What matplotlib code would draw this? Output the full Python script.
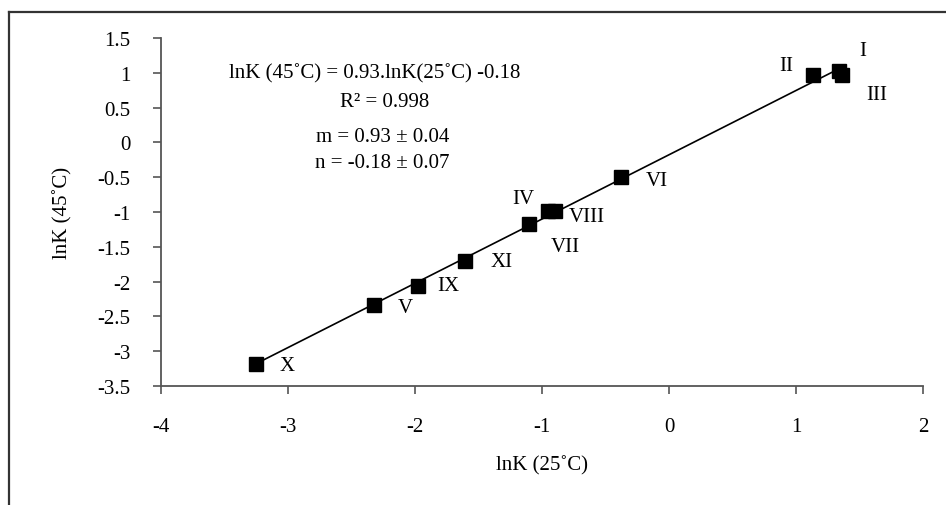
import matplotlib
matplotlib.use("Agg")
import matplotlib.pyplot as plt
from matplotlib.lines import Line2D
import numpy as np

plt.rcParams["font.family"] = ["Liberation Serif", "DejaVu Serif"]

# data
labels = ["I", "II", "III", "IV", "V", "VI", "VII", "VIII", "IX", "X", "XI"]
lnk25 = [1.34, 1.13, 1.36, -0.95, -2.32, -0.38, -1.10, -0.90, -1.98, -3.25, -1.61]
lnk45 = [1.02, 0.97, 0.97, -0.99, -2.33, -0.49, -1.17, -0.98, -2.06, -3.18, -1.71]
# label offsets (points)
offsets = {
    "I": (17, 15), "II": (-19, 7), "III": (25, -14), "IV": (-18, 9),
    "V": (22, -2), "VI": (26, -3), "VII": (26, -16), "VIII": (23, -4),
    "IX": (22, 0), "X": (22, -1), "XI": (27, 0),
}
FS = 15

fig = plt.figure(figsize=(9.46, 5.06), dpi=100)
ax = fig.add_axes([161 / 946, 1 - 387 / 506, (923 - 161) / 946, (387 - 39) / 506])

x = np.array(lnk25)
y = np.array(lnk45)
slope, icpt = np.polyfit(x, y, 1)
xl = np.array([x.min(), x.max()])
ax.plot(xl, slope * xl + icpt, color="black", lw=1.2, zorder=2)
ax.plot(x, y, ls="none", marker="s", ms=10.5, color="black", zorder=3)

for lab, xi, yi in zip(labels, lnk25, lnk45):
    ax.annotate(lab, (xi, yi), xytext=offsets[lab], textcoords="offset points",
                ha="center", va="center", fontsize=FS)

ax.set_xlim(-4, 2)
ax.set_ylim(-3.5, 1.5)
ax.set_xticks(np.arange(-4, 2.1, 1))
ax.set_yticks(np.arange(-3.5, 1.6, 0.5))
ax.set_xticklabels(["-4", "-3", "-2", "-1", "0", "1", "2"])
ax.set_yticklabels(["-3.5", "-3", "-2.5", "-2", "-1.5", "-1", "-0.5", "0", "0.5", "1", "1.5"])
ax.tick_params(labelsize=FS, length=6, width=1.2, color="#555555", direction="out")
ax.tick_params(axis="x", pad=16)
ax.tick_params(axis="y", pad=16)
for s in ["top", "right"]:
    ax.spines[s].set_visible(False)
for s in ["left", "bottom"]:
    ax.spines[s].set_color("#555555")
    ax.spines[s].set_linewidth(1.3)

ax.set_xlabel("lnK (25˚C)", fontsize=FS, labelpad=14)
ax.set_ylabel("lnK (45˚C)", fontsize=FS, labelpad=18)

fig.text(375 / 946, 1 - 74 / 506, "lnK (45˚C) = 0.93.lnK(25˚C) -0.18",
         ha="center", va="center", fontsize=FS)
fig.text(385 / 946, 1 - 103 / 506, "R² = 0.998",
         ha="center", va="center", fontsize=FS)
fig.text(383 / 946, 1 - 138 / 506, "m = 0.93 ± 0.04",
         ha="center", va="center", fontsize=FS)
fig.text(382 / 946, 1 - 163 / 506, "n = -0.18 ± 0.07",
         ha="center", va="center", fontsize=FS)

# outer frame (cut at right and bottom)
fx, fy = 9 / 946, 1 - 13 / 506
fig.add_artist(Line2D([fx, fx], [-0.05, fy], transform=fig.transFigure,
                      color="#333333", lw=1.6))
fig.add_artist(Line2D([fx, 1.05], [fy, fy], transform=fig.transFigure,
                      color="#333333", lw=1.6))

fig.savefig("out.png", dpi=100)
